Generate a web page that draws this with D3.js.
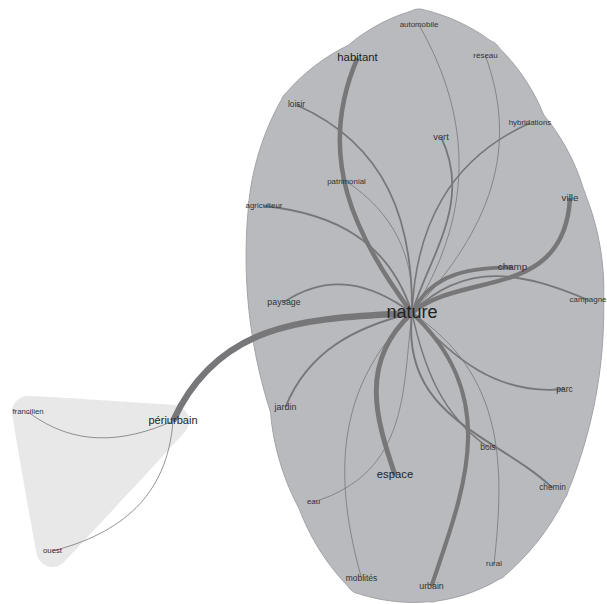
<!DOCTYPE html>
<html>
<head>
<meta charset="utf-8">
<script src="https://cdn.jsdelivr.net/npm/d3@7"></script>
<style>
  html, body { margin: 0; padding: 0; background: #ffffff; }
  svg { display: block; }
  text { font-family: "Liberation Sans", Arial, "DejaVu Sans", sans-serif; }
</style>
</head>
<body>
<svg id="chart" width="607" height="604"></svg>
<script>
// ---------- DATA ----------
// words (nodes) of the similarity graph
const nodeNames = ["nature","habitant","automobile","réseau","loisir","vert","hybridations",
  "patrimonial","agriculteur","ville","champ","campagne","paysage","parc","jardin","bois",
  "espace","chemin","eau","rural","moblités","urbain","périurbain","francilien","ouest"];
// layout coordinates (graph layout units)
const nodeX = [412,357.5,419,485.5,296.5,441,530,346.5,264,570,512.5,588,284,564.5,285.5,488,
  395,552.5,313.5,494,361.5,431.5,173,28,52.5];
const nodeY = [313,58,25,56,105,137,123,181.5,206,198,267,300,302,389,407,447,
  475,488,502,564,578,586,421,412,551];
// word frequency (drives label size)
const nodeFreq = [100,35,1,2,5,15,1,1,1,20,20,1,10,6,11,7,34,5,0,1,6,10,32,0,0];
// community
const nodeGroup = [0,0,0,0,0,0,0,0,0,0,0,0,0,0,0,0,0,0,0,0,0,0,1,1,1];

// co-occurrence edges
const edgeSource = ["nature","nature","nature","nature","nature","nature","nature","nature",
  "nature","nature","nature","nature","nature","nature","nature","nature","nature","nature",
  "nature","nature","nature","nature","périurbain","périurbain"];
const edgeTarget = ["habitant","périurbain","espace","urbain","ville","champ","campagne","loisir",
  "agriculteur","patrimonial","automobile","réseau","hybridations","vert","paysage","jardin",
  "parc","bois","chemin","eau","rural","moblités","francilien","ouest"];
const edgeWeight = [21,30,23,19,21,18,7,7,7,2,2,2,6,7,7,8,7,5,8,2,2,2,2,2];
// layout bend of each curved edge (two control offsets, layout units)
const edgeBend1 = [-40,33,48,-85,-5,-30,-51,45,45,28,58,45,-42,8,26,22,22,16,75,-26,-70,63,-25,-47];
const edgeBend2 = [-62,76,25,-38,80,-15,-30,60,35,28,58,65,-50,42,34,32,36,25,10,-72,-40,45,-32,-38];

// ---------- CHART ----------
const W = 607, H = 604;
const svg = d3.select("#chart");
const x = d3.scaleLinear().domain([0, 607]).range([0, W]);
const y = d3.scaleLinear().domain([0, 604]).range([0, H]);
const fontScale = d3.scaleLinear().domain([0, 100]).range([7.8, 18]);
const widthScale = d3.scaleLinear().domain([2, 30]).range([0.8, 6.3]);

const nodes = nodeNames.map((n, i) => ({name: n, x: x(nodeX[i]), y: y(nodeY[i]), freq: nodeFreq[i], group: nodeGroup[i]}));
const byName = new Map(nodes.map(d => [d.name, d]));
const edges = edgeSource.map((s, i) => ({s: byName.get(s), t: byName.get(edgeTarget[i]), w: edgeWeight[i], b1: edgeBend1[i], b2: edgeBend2[i]}));

// hulls
const hullFill = ["#b9babe", "#e8e8e9"];
const hullStroke = ["#a2a3a6", "none"];
const hullBulge = [0.05, 0.0];
const pad = 16;
const smooth = d3.line().curve(d3.curveCatmullRomClosed.alpha(0.5));

function blobHull(members, bulge) {
  const pts = [];
  members.forEach(d => {
    for (let k = 0; k < 36; k++) {
      const a = 2 * Math.PI * k / 36;
      pts.push([d.x + pad * Math.cos(a), d.y + pad * Math.sin(a)]);
    }
  });
  const h = d3.polygonHull(pts);
  const cx = d3.mean(members, d => d.x), cy = d3.mean(members, d => d.y);
  const out = [];
  const n = h.length;
  for (let i = 0; i < n; i++) {
    const p = h[i], q = h[(i + 1) % n];
    out.push(p);
    const dx = q[0] - p[0], dy = q[1] - p[1], L = Math.hypot(dx, dy);
    if (L > 20 && bulge > 0) {
      let nx = dy / L, ny = -dx / L;
      const mx = (p[0] + q[0]) / 2 - cx, my = (p[1] + q[1]) / 2 - cy;
      if (nx * mx + ny * my < 0) { nx = -nx; ny = -ny; }
      const sag = bulge * L;
      const m = Math.ceil(L / 10);
      for (let j = 1; j < m; j++) {
        const s = j / m, off = 4 * sag * s * (1 - s);
        out.push([p[0] + s * dx + nx * off, p[1] + s * dy + ny * off]);
      }
    }
  }
  return out;
}

[1, 0].forEach(g => {
  svg.append("path")
    .attr("d", smooth(blobHull(nodes.filter(d => d.group === g), hullBulge[g])))
    .attr("fill", hullFill[g])
    .attr("stroke", hullStroke[g])
    .attr("stroke-width", 1);
});

// edges
function edgePath(e) {
  const sx = e.s.x, sy = e.s.y, tx = e.t.x, ty = e.t.y;
  const dx = tx - sx, dy = ty - sy, L = Math.hypot(dx, dy);
  const nx = -dy / L, ny = dx / L;
  const p = d3.path();
  p.moveTo(sx, sy);
  p.bezierCurveTo(sx + dx / 3 + nx * e.b1, sy + dy / 3 + ny * e.b1,
                  sx + 2 * dx / 3 + nx * e.b2, sy + 2 * dy / 3 + ny * e.b2,
                  tx, ty);
  return p.toString();
}
svg.append("g").selectAll("path")
  .data(edges.slice().sort((a, b) => a.w - b.w))
  .join("path")
  .attr("d", edgePath)
  .attr("fill", "none")
  .attr("stroke", "#77777a")
  .attr("stroke-width", d => widthScale(d.w))
  .attr("stroke-linecap", "butt");

// labels
svg.append("g").selectAll("text")
  .data(nodes)
  .join("text")
  .attr("x", d => d.x)
  .attr("y", d => d.y)
  .attr("dy", "0.3em")
  .attr("text-anchor", "middle")
  .attr("font-size", d => fontScale(d.freq))
  .attr("fill", d => d.freq >= 30 ? "#222222" : "#333333")
  .text(d => d.name);
</script>
</body>
</html>
